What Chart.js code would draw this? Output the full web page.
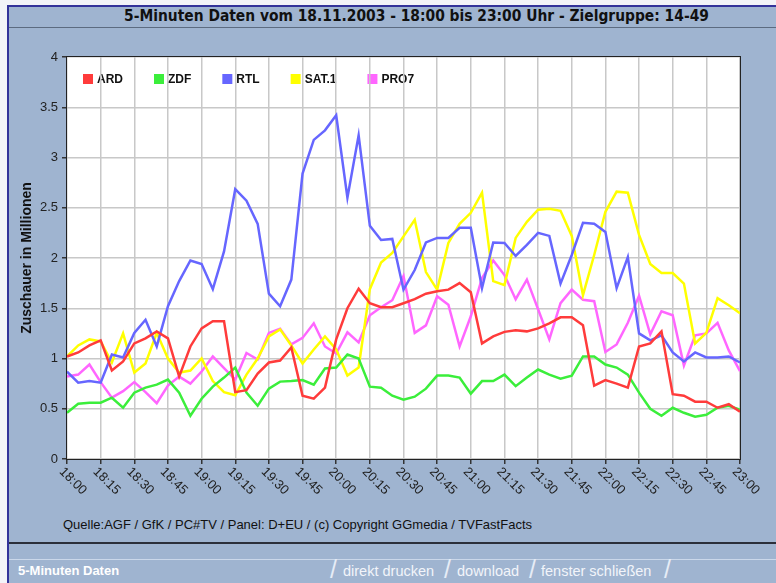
<!DOCTYPE html>
<html>
<head>
<meta charset="utf-8">
<script src="https://cdn.jsdelivr.net/npm/chart.js@4"></script>
<style>
body{margin:0;width:776px;height:583px;background:#9fb4d0;position:relative;overflow:hidden;font-family:"Liberation Sans",Arial,sans-serif}
.abs{position:absolute}
#edgeTop{left:0;top:0;width:776px;height:5px;background:#f3f4f8}
#edgeLeft{left:0;top:0;width:7px;height:583px;background:#f3f4f8}
#blueTop{left:7px;top:5px;width:769px;height:2px;background:#33339a}
#blueLeft{left:7px;top:5px;width:2px;height:578px;background:#33339a}
#title{left:9px;width:719px;padding-left:48px;top:7px;height:20px;line-height:20px;text-align:center;font:bold 15.4px "Liberation Sans Narrow","DejaVu Sans Condensed",sans-serif;color:#111;border-bottom:1px solid #5c6b80}
#source{left:63px;top:517px;font-size:13px;color:#111}
#darkLine{left:9px;top:542px;width:767px;height:2px;background:#2b2f3a}
#lightLine{left:9px;top:559px;width:767px;height:1px;background:#cbd8ea}
#footTitle{left:18px;top:563px;font:bold 13px "Liberation Sans",Arial,sans-serif;color:#fff}
.link{top:563px;font-size:14.5px;color:#f2f4fa}
.sep{top:555px;font-size:25px;color:#e6ecf6;font-weight:100}
canvas{position:absolute;left:0;top:0}
</style>
</head>
<body>
<div class="abs" id="edgeTop"></div>
<div class="abs" id="edgeLeft"></div>
<div class="abs" id="blueTop"></div>
<div class="abs" id="blueLeft"></div>
<div class="abs" id="title">5-Minuten Daten vom 18.11.2003 - 18:00 bis 23:00 Uhr - Zielgruppe: 14-49</div>
<div class="abs" id="source">Quelle:AGF / GfK / PC#TV / Panel: D+EU / (c) Copyright GGmedia / TVFastFacts</div>
<div class="abs" id="darkLine"></div>
<div class="abs" id="lightLine"></div>
<div class="abs" id="footTitle">5-Minuten Daten</div>
<span class="abs sep" style="left:330px">/</span>
<span class="abs link" style="left:343px">direkt drucken</span>
<span class="abs sep" style="left:444px">/</span>
<span class="abs link" style="left:457px">download</span>
<span class="abs sep" style="left:529px">/</span>
<span class="abs link" style="left:541px">fenster schließen</span>
<span class="abs sep" style="left:664px">/</span>
<canvas id="chart" width="776" height="583"></canvas>
<script>
"use strict";

const times = [
	'18:00','18:05','18:10','18:15','18:20','18:25','18:30','18:35','18:40','18:45','18:50','18:55',
	'19:00','19:05','19:10','19:15','19:20','19:25','19:30','19:35','19:40','19:45','19:50','19:55',
	'20:00','20:05','20:10','20:15','20:20','20:25','20:30','20:35','20:40','20:45','20:50','20:55',
	'21:00','21:05','21:10','21:15','21:20','21:25','21:30','21:35','21:40','21:45','21:50','21:55',
	'22:00','22:05','22:10','22:15','22:20','22:25','22:30','22:35','22:40','22:45','22:50','22:55',
	'23:00'
];
const xTickLabels = ['18:00','18:15','18:30','18:45','19:00','19:15','19:30','19:45','20:00','20:15','20:30','20:45','21:00','21:15','21:30','21:45','22:00','22:15','22:30','22:45','23:00'];
const yTickLabels = ['0','0.5','1','1.5','2','2.5','3','3.5','4'];

const ard = [1.02,1.06,1.13,1.18,0.88,0.97,1.15,1.20,1.27,1.20,
	0.82,1.12,1.30,1.37,1.37,0.665,0.685,0.85,0.96,0.98,
	1.11,0.63,0.60,0.71,1.19,1.50,1.695,1.55,1.51,1.51,
	1.55,1.59,1.645,1.67,1.685,1.75,1.66,1.15,1.22,1.265,
	1.28,1.27,1.30,1.35,1.41,1.41,1.33,0.73,0.785,0.75,
	0.71,1.12,1.15,1.27,0.645,0.63,0.57,0.57,0.51,0.545,
	0.47];
const zdf = [0.46,0.55,0.56,0.56,0.61,0.51,0.66,0.71,0.74,0.79,
	0.66,0.43,0.60,0.72,0.81,0.91,0.66,0.53,0.70,0.77,
	0.775,0.785,0.74,0.90,0.91,1.04,1.00,0.72,0.71,0.63,
	0.59,0.62,0.70,0.83,0.83,0.81,0.65,0.775,0.775,0.84,
	0.725,0.81,0.89,0.84,0.80,0.83,1.02,1.02,0.94,0.91,
	0.84,0.66,0.50,0.43,0.51,0.46,0.42,0.44,0.51,0.53,
	0.49];
const rtl = [0.87,0.76,0.775,0.76,1.04,1.01,1.255,1.385,1.12,1.52,
	1.77,1.975,1.94,1.69,2.065,2.685,2.57,2.34,1.645,1.52,
	1.785,2.84,3.175,3.27,3.42,2.60,3.22,2.32,2.18,2.19,
	1.685,1.88,2.155,2.20,2.20,2.30,2.30,1.70,2.155,2.15,
	2.02,2.13,2.25,2.22,1.745,2.03,2.35,2.34,2.26,1.70,
	2.01,1.25,1.18,1.23,1.06,0.97,1.06,1.01,1.01,1.02,
	0.96];
const sat1 = [1.02,1.13,1.19,1.17,0.96,1.25,0.86,0.95,1.255,1.00,
	0.86,0.88,1.00,0.775,0.665,0.635,0.84,1.00,1.22,1.29,
	1.13,0.95,1.09,1.22,1.09,0.83,0.91,1.69,1.955,2.05,
	2.215,2.38,1.86,1.685,2.15,2.34,2.45,2.65,1.77,1.73,
	2.20,2.36,2.48,2.49,2.47,2.22,1.63,2.03,2.46,2.66,
	2.65,2.23,1.94,1.85,1.85,1.745,1.15,1.255,1.60,1.53,
	1.45];
const pro7 = [0.82,0.84,0.94,0.765,0.61,0.675,0.765,0.665,0.555,0.73,
	0.82,0.75,0.87,1.02,0.905,0.79,1.055,0.99,1.255,1.295,
	1.14,1.205,1.35,1.12,1.05,1.26,1.16,1.43,1.51,1.58,
	1.82,1.255,1.33,1.62,1.535,1.12,1.42,1.80,1.975,1.83,
	1.59,1.785,1.49,1.19,1.55,1.685,1.585,1.57,1.065,1.14,
	1.355,1.625,1.24,1.47,1.43,0.93,1.23,1.25,1.355,1.08,
	0.875];

const channels = ['ARD', 'ZDF', 'RTL', 'SAT.1', 'PRO7'];
const colours = ['#ff3b3b', '#3bee3b', '#6666ff', '#ffff00', '#ff66ff'];
const series = [ard, zdf, rtl, sat1, pro7];

// white plot area and legend go under the grid
const backdrop = {
	id: 'backdrop',
	beforeDraw(chart) {
		const {ctx, chartArea: a} = chart;
		ctx.save();
		ctx.fillStyle = '#fff';
		ctx.fillRect(a.left, a.top, a.right - a.left, a.bottom - a.top);
		ctx.font = 'bold 12px "Liberation Sans", Arial, sans-serif';
		ctx.textBaseline = 'middle';
		let x = a.left + 16;
		const y = a.top + 22;
		chart.data.datasets.forEach(ds => {
			ctx.fillStyle = ds.borderColor;
			ctx.fillRect(x, y - 5, 10, 10);
			ctx.fillStyle = '#111';
			ctx.fillText(ds.label, x + 14, y + 1);
			x += 14 + ctx.measureText(ds.label).width + 31;
		});
		ctx.restore();
	}
};

// frame + slanted time labels
const frame = {
	id: 'frame',
	afterDraw(chart) {
		const {ctx, chartArea: a} = chart;
		const xs = chart.scales.x;
		ctx.save();
		ctx.strokeStyle = '#222';
		ctx.lineWidth = 1;
		ctx.strokeRect(a.left - 0.5, a.top - 0.5, a.right - a.left + 1, a.bottom - a.top + 1);
		ctx.font = '13px "Liberation Sans", Arial, sans-serif';
		ctx.fillStyle = '#222';
		ctx.textAlign = 'left';
		ctx.textBaseline = 'top';
		times.forEach((t, i) => {
			if (!xTickLabels.includes(t)) return;
			ctx.save();
			ctx.translate(xs.getPixelForValue(i) - 1, xs.top + 6);
			ctx.rotate(Math.PI / 4);
			ctx.fillText(t, 0, 0);
			ctx.restore();
		});
		ctx.restore();
	}
};

const ctx = document.querySelector('#chart').getContext('2d');
new Chart(ctx, {
	type: 'line',
	data: {
		labels: times,
		datasets: channels.map((name, k) => ({
			label: name,
			data: series[k],
			borderColor: colours[k],
			backgroundColor: colours[k],
			borderWidth: 2.5,
			pointRadius: 0,
			tension: 0,
			fill: false
		}))
	},
	options: {
		responsive: false,
		animation: false,
		devicePixelRatio: 1,
		layout: { padding: { left: 7, top: 57, right: 36, bottom: 0 } },
		plugins: { legend: { display: false }, tooltip: { enabled: false } },
		scales: {
			x: {
				afterFit(scale) { scale.height = 124; },
				border: { display: false },
				grid: {
					color: c => xTickLabels.includes(times[c.index]) ? '#c8c8c8' : 'rgba(0,0,0,0)',
					tickColor: c => xTickLabels.includes(times[c.index]) ? '#333' : 'rgba(0,0,0,0)',
					tickLength: 5,
					lineWidth: 1.5
				},
				ticks: { display: false, autoSkip: false }
			},
			y: {
				min: 0,
				max: 4,
				afterFit(scale) { scale.width = 60; },
				border: { display: false },
				grid: { color: '#c8c8c8', tickColor: '#333', tickLength: 5, lineWidth: 1.5 },
				ticks: {
					stepSize: 0.5,
					padding: 4,
					color: '#222',
					font: { size: 13, family: '"Liberation Sans", Arial, sans-serif' },
					callback: (v, i) => yTickLabels[i]
				},
				title: {
					display: true,
					text: 'Zuschauer in Millionen',
					color: '#111',
					font: { size: 14, weight: 'bold', family: '"Liberation Sans", Arial, sans-serif' },
					padding: { top: 12, bottom: 0 }
				}
			}
		}
	},
	plugins: [backdrop, frame]
});
</script>
</body>
</html>
